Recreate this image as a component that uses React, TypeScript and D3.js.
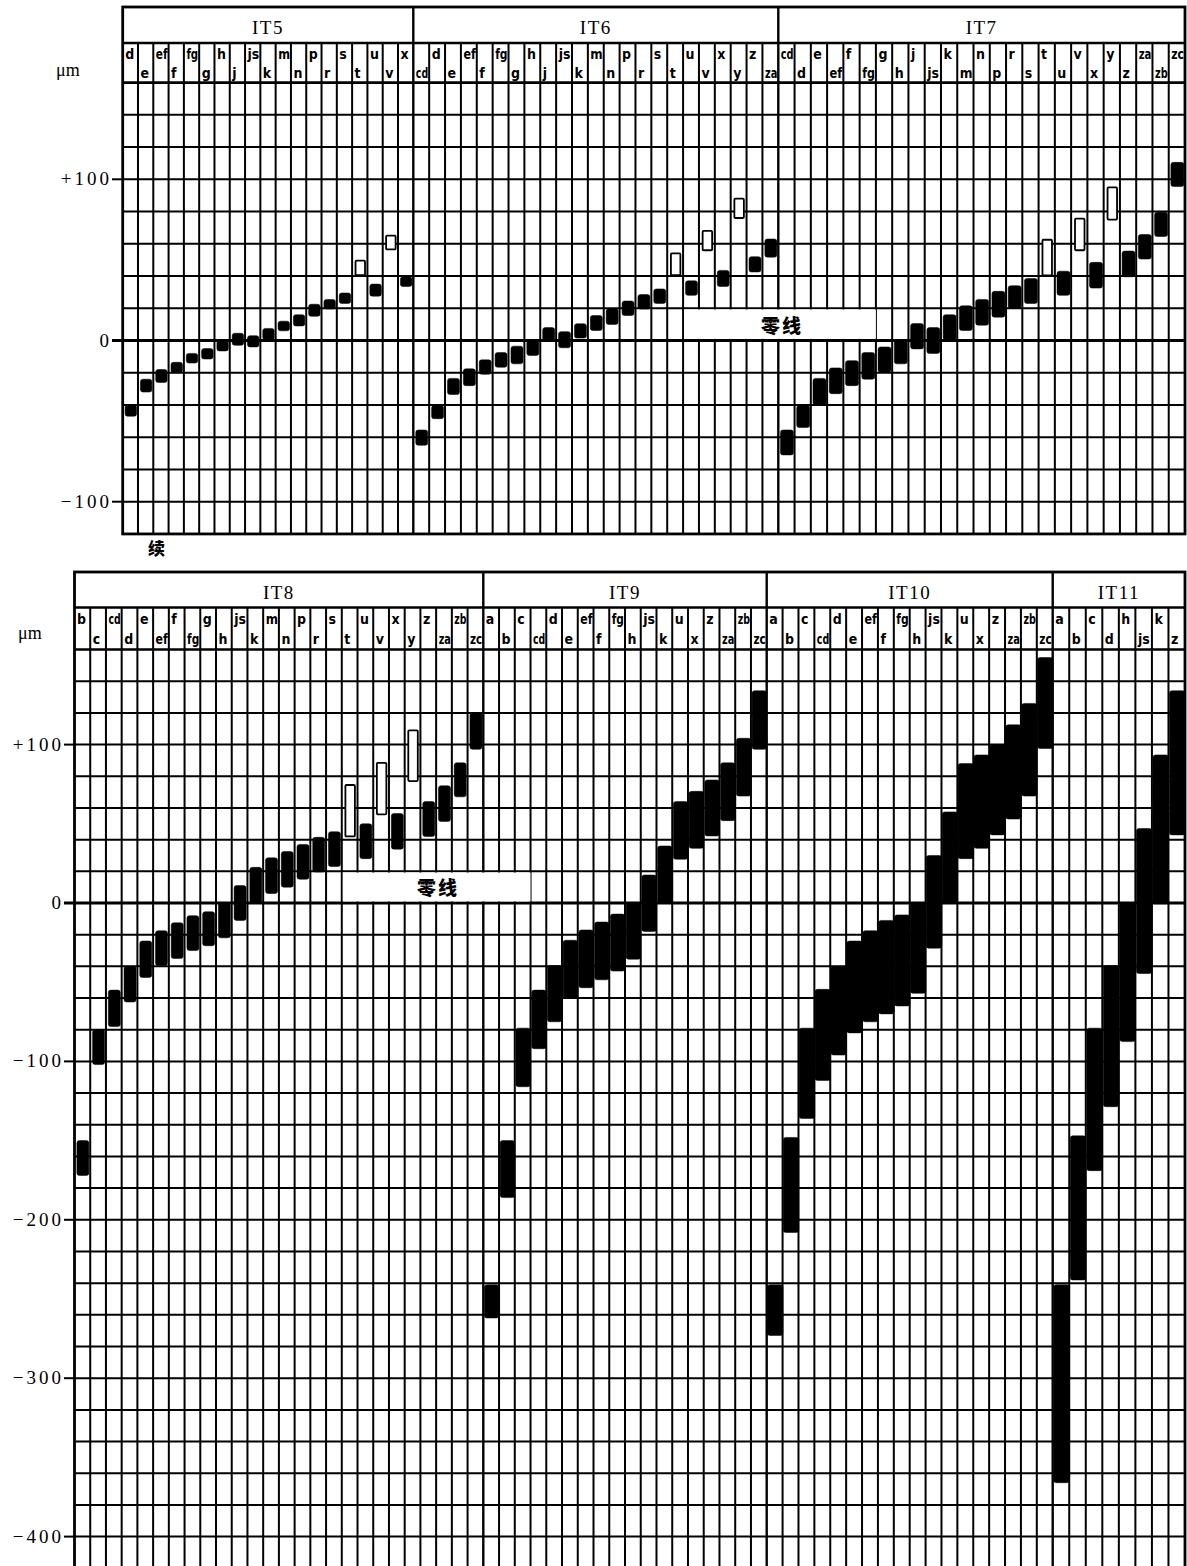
import React, { useEffect, useRef } from "react";
import * as d3 from "d3";

// upper panel: IT5, IT6, IT7 (values in µm)
const it5Letters = ["d", "e", "ef", "f", "fg", "g", "h", "j", "js", "k", "m", "n", "p", "r", "s", "t", "u", "v", "x"];
const it5Lower = [-47, -32, -26, -20, -14, -11.5, -6.5, -3, -4, 0.5, 6, 9, 15, 19.5, 23, 40.5, 27.5, 56.5, 33.5];
const it5Upper = [-40, -24, -18, -13.5, -8, -5, 0, 4.5, 3, 7.5, 12, 16, 22.5, 25.5, 29.5, 49.5, 35, 65, 39.5];
const it5Open = ["t", "v"];

const it6Letters = ["cd", "d", "e", "ef", "f", "fg", "g", "h", "j", "js", "k", "m", "n", "p", "r", "s", "t", "u", "v", "x", "y", "z", "za"];
const it6Lower = [-65, -48.5, -33.5, -28, -21, -16.6, -14.5, -9.3, -0.5, -4.5, 1.5, 6.2, 10, 15.5, 19.5, 23, 40.5, 28, 56, 33.5, 76, 42.5, 51.7];
const it6Upper = [-55.5, -40.4, -23.5, -17.6, -12, -7.5, -3.5, 0, 8, 5.5, 10.4, 15.5, 19.7, 24.5, 28.5, 32, 54, 37, 68, 43.5, 88, 52, 63];
const it6Open = ["t", "v", "y"];

const it7Letters = ["cd", "d", "e", "ef", "f", "fg", "g", "h", "j", "js", "k", "m", "n", "p", "r", "s", "t", "u", "v", "x", "y", "z", "za", "zb", "zc"];
const it7Lower = [-71, -54, -40, -33, -28, -24, -19.7, -14.5, -5.2, -8, 0.5, 6.2, 9.5, 14.5, 20, 23, 40.4, 28, 56, 32.5, 75, 39.5, 50.5, 64.5, 95.5];
const it7Upper = [-55.5, -40.4, -23.5, -17, -12.5, -7.5, -4, 0, 10.5, 8, 16, 21.5, 25.5, 30.5, 34, 38.5, 62.5, 43, 75.6, 48.5, 95, 55.5, 65.8, 79.5, 110.5];
const it7Open = ["t", "v", "y"];

// lower panel: IT8, IT9, IT10, IT11
const it8Letters = ["b", "c", "cd", "d", "e", "ef", "f", "fg", "g", "h", "js", "k", "m", "n", "p", "r", "s", "t", "u", "v", "x", "y", "z", "za", "zb", "zc"];
const it8Lower = [-172, -102, -78, -62.5, -47, -39.5, -35, -30, -27, -22, -11, 0, 6, 10, 15, 19.5, 23, 42, 28, 56, 34, 77, 42, 51.5, 67, 97];
const it8Upper = [-150, -80, -55, -40, -24, -17.5, -12.5, -8, -5.5, 0, 11, 22.5, 28.5, 32.5, 37, 41.5, 45, 74.5, 50, 88.5, 56.5, 109, 64, 74, 88.5, 120];
const it8Open = ["t", "v", "y"];

const it9Letters = ["a", "b", "c", "cd", "d", "e", "ef", "f", "fg", "h", "js", "k", "u", "x", "z", "za", "zb", "zc"];
const it9Lower = [-262, -186, -116, -92, -75, -60, -53.5, -48.5, -43, -35.5, -18, 0, 27.6, 34.5, 42.3, 52, 67.5, 97];
const it9Upper = [-241, -150, -79, -55, -39.5, -23.5, -17, -12, -7, 0, 17.7, 36, 64, 70.5, 77.7, 88.5, 104, 134];
const it9Open: string[] = [];

const it10Letters = ["a", "b", "c", "cd", "d", "e", "ef", "f", "fg", "h", "js", "k", "u", "x", "z", "za", "zb", "zc"];
const it10Lower = [-273, -208, -136, -112, -96, -82, -75, -70, -65, -57, -28.5, 0, 28, 34.5, 43, 53, 67.5, 97.5];
const it10Upper = [-241, -148, -79, -54.5, -40, -24, -17.5, -11, -7.5, 0, 30, 57.5, 88, 93.5, 100, 112.5, 126, 155];
const it10Open: string[] = [];

const it11Letters = ["a", "b", "c", "d", "h", "js", "k", "z"];
const it11Lower = [-366, -238, -169, -128.6, -87.5, -44.5, -0.5, 43];
const it11Upper = [-241, -147, -79, -39.5, 0, 47, 93.5, 134];
const it11Open: string[] = [];

const topTicks = [100, 0, -100];
const bottomTicks = [100, 0, -100, -200, -300, -400];
const tickText = (v: number) => (v > 0 ? "+" + v : v < 0 ? "\u2212" + -v : "0");

const SERIF = "'Liberation Serif', 'DejaVu Serif', serif";
const SANS = "'DejaVu Sans Condensed', 'DejaVu Sans', sans-serif";
const CJK = "'Noto Sans CJK SC', sans-serif";

function drawPanel(svg: any, cfg: any) {
  const { groups, left, right, top, rowTop, rowBottom, yScale, yMin, ticks, labelX, tickX0, unitX, unitY } = cfg;
  const g = svg.append("g");
  const gridBottom = yScale(yMin);

  const bands = groups.map((grp: any) =>
    d3.scaleBand().domain(grp.letters).range([grp.x0, grp.x1]).paddingInner(0).paddingOuter(0)
  );

  // horizontal grid lines every 20 µm
  const rows = d3.range(160, yMin - 1, -20);
  g.selectAll(".hrow")
    .data(rows)
    .join("line")
    .attr("x1", left)
    .attr("x2", right)
    .attr("y1", (d: number) => yScale(d))
    .attr("y2", (d: number) => yScale(d))
    .attr("stroke", "#000")
    .attr("stroke-width", (d: number) => (d === 0 ? 3.2 : d === 160 ? 2.6 : 2));

  // column lines (letter row + grid)
  groups.forEach((grp: any, gi: number) => {
    const x = bands[gi];
    g.append("g")
      .selectAll("line")
      .data(grp.letters.slice(1))
      .join("line")
      .attr("x1", (d: string) => x(d))
      .attr("x2", (d: string) => x(d))
      .attr("y1", rowTop)
      .attr("y2", gridBottom)
      .attr("stroke", "#000")
      .attr("stroke-width", 2);
  });

  // group dividers
  g.selectAll(".gdiv")
    .data(groups.slice(1))
    .join("line")
    .attr("x1", (d: any) => d.x0)
    .attr("x2", (d: any) => d.x0)
    .attr("y1", top)
    .attr("y2", gridBottom)
    .attr("stroke", "#000")
    .attr("stroke-width", 2.4);

  // header separator + frame
  g.append("line")
    .attr("x1", left)
    .attr("x2", right)
    .attr("y1", rowTop)
    .attr("y2", rowTop)
    .attr("stroke", "#000")
    .attr("stroke-width", 2.4);
  g.append("rect")
    .attr("x", left)
    .attr("y", top)
    .attr("width", right - left)
    .attr("height", gridBottom - top)
    .attr("fill", "none")
    .attr("stroke", "#000")
    .attr("stroke-width", 2.8);

  // zero-line label box
  const zb = cfg.zeroBox;
  const bx0 = bands[zb.from[0]](zb.from[1]);
  const bx1 = bands[zb.to[0]](zb.to[1]);
  g.append("rect")
    .attr("x", bx0 + 1)
    .attr("y", yScale(20) + 1.2)
    .attr("width", bx1 - bx0 - 1)
    .attr("height", yScale(0) - yScale(20) - 2.8)
    .attr("fill", "#fff");
  g.append("text")
    .attr("x", zb.textX)
    .attr("y", yScale(0) - 8)
    .attr("text-anchor", "middle")
    .style("font-family", CJK)
    .style("font-weight", "900")
    .style("font-size", "19px")
    .style("letter-spacing", "2px")
    .text("零线");

  // bars
  groups.forEach((grp: any, gi: number) => {
    const x = bands[gi];
    const bw = x.bandwidth();
    grp.letters.forEach((l: string, i: number) => {
      const open = grp.open.includes(l);
      const w = open ? 9.5 : grp.barW;
      const y1 = yScale(grp.upper[i]);
      const y2 = yScale(grp.lower[i]);
      g.append("rect")
        .attr("x", (x(l) as number) + (bw - w) / 2 + 0.5)
        .attr("y", y1)
        .attr("width", w)
        .attr("height", y2 - y1)
        .attr("rx", open ? 1 : 2.5)
        .attr("fill", open ? "#fff" : "#000")
        .attr("stroke", "#000")
        .attr("stroke-width", open ? 1.8 : 0.5);
    });
  });

  // IT titles
  g.selectAll(".ittitle")
    .data(groups)
    .join("text")
    .attr("x", (d: any) => (d.x0 + d.x1) / 2)
    .attr("y", rowTop - 9)
    .attr("text-anchor", "middle")
    .style("font-family", SERIF)
    .style("font-size", "19px")
    .style("letter-spacing", "1.5px")
    .text((d: any) => d.name);

  // letters, alternating top/bottom across the whole panel
  let k = 0;
  groups.forEach((grp: any, gi: number) => {
    const x = bands[gi];
    const bw = x.bandwidth();
    grp.letters.forEach((l: string) => {
      const up = k % 2 === 0;
      const t = g
        .append("text")
        .attr("x", (x(l) as number) + 2.5)
        .attr("y", up ? rowTop + 16 : rowBottom - 4)
        .style("font-family", SANS)
        .style("font-size", "14px")
        .style("font-weight", "bold")
        .text(l);
      const n = t.node();
      if (n && n.getComputedTextLength() > bw - 3.5) {
        t.attr("textLength", bw - 3.5).attr("lengthAdjust", "spacingAndGlyphs");
      }
      k++;
    });
  });

  // y axis
  g.selectAll(".tick")
    .data(ticks)
    .join("line")
    .attr("x1", tickX0)
    .attr("x2", left)
    .attr("y1", (d: number) => yScale(d))
    .attr("y2", (d: number) => yScale(d))
    .attr("stroke", "#000")
    .attr("stroke-width", (d: number) => (d === 0 ? 3 : 2));
  g.selectAll(".tlabel")
    .data(ticks)
    .join("text")
    .attr("x", labelX)
    .attr("y", (d: number) => yScale(d) + 6)
    .attr("text-anchor", "end")
    .style("font-family", SERIF)
    .style("font-size", "19px")
    .style("letter-spacing", "3px")
    .text((d: number) => tickText(d));
  g.append("text")
    .attr("x", unitX)
    .attr("y", unitY)
    .style("font-family", SERIF)
    .style("font-size", "18px")
    .text("μm");
}

const App = () => {
  const canvas = useRef(null);

  useEffect(() => {
    const svg = d3.select(canvas.current);
    svg.selectAll("*").remove();

    drawPanel(svg, {
      groups: [
        { name: "IT5", letters: it5Letters, lower: it5Lower, upper: it5Upper, open: it5Open, x0: 122.7, x1: 413.3, barW: 11.5 },
        { name: "IT6", letters: it6Letters, lower: it6Lower, upper: it6Upper, open: it6Open, x0: 413.3, x1: 778.3, barW: 12 },
        { name: "IT7", letters: it7Letters, lower: it7Lower, upper: it7Upper, open: it7Open, x0: 778.3, x1: 1185, barW: 13 },
      ],
      left: 122.7,
      right: 1185,
      top: 7,
      rowTop: 43,
      rowBottom: 82,
      yScale: d3.scaleLinear().domain([0, 100]).range([340.5, 179.3]),
      yMin: -120,
      ticks: topTicks,
      labelX: 112,
      tickX0: 112,
      unitX: 56,
      unitY: 76,
      zeroBox: { from: [1, "u"], to: [2, "g"], textX: 782 },
    });

    drawPanel(svg, {
      groups: [
        { name: "IT8", letters: it8Letters, lower: it8Lower, upper: it8Upper, open: it8Open, x0: 74.5, x1: 483.3, barW: 12 },
        { name: "IT9", letters: it9Letters, lower: it9Lower, upper: it9Upper, open: it9Open, x0: 483.3, x1: 766.7, barW: 14.5 },
        { name: "IT10", letters: it10Letters, lower: it10Lower, upper: it10Upper, open: it10Open, x0: 766.7, x1: 1052.7, barW: 15.5 },
        { name: "IT11", letters: it11Letters, lower: it11Lower, upper: it11Upper, open: it11Open, x0: 1052.7, x1: 1185, barW: 15.5 },
      ],
      left: 74.5,
      right: 1185,
      top: 572,
      rowTop: 607.5,
      rowBottom: 648,
      yScale: d3.scaleLinear().domain([0, 100]).range([903, 744.6]),
      yMin: -420,
      ticks: bottomTicks,
      labelX: 64,
      tickX0: 64,
      unitX: 18,
      unitY: 639,
      zeroBox: { from: [0, "t"], to: [1, "cd"], textX: 438 },
    });

    svg
      .append("text")
      .attr("x", 148)
      .attr("y", 555)
      .style("font-family", CJK)
      .style("font-weight", "900")
      .style("font-size", "17px")
      .text("续");
  }, []);

  return (
    <svg
      ref={canvas}
      width={1187}
      height={1566}
      viewBox="0 0 1187 1566"
      style={{ position: "absolute", left: 0, top: 0, background: "#fff" }}
    ></svg>
  );
};

export default App;
